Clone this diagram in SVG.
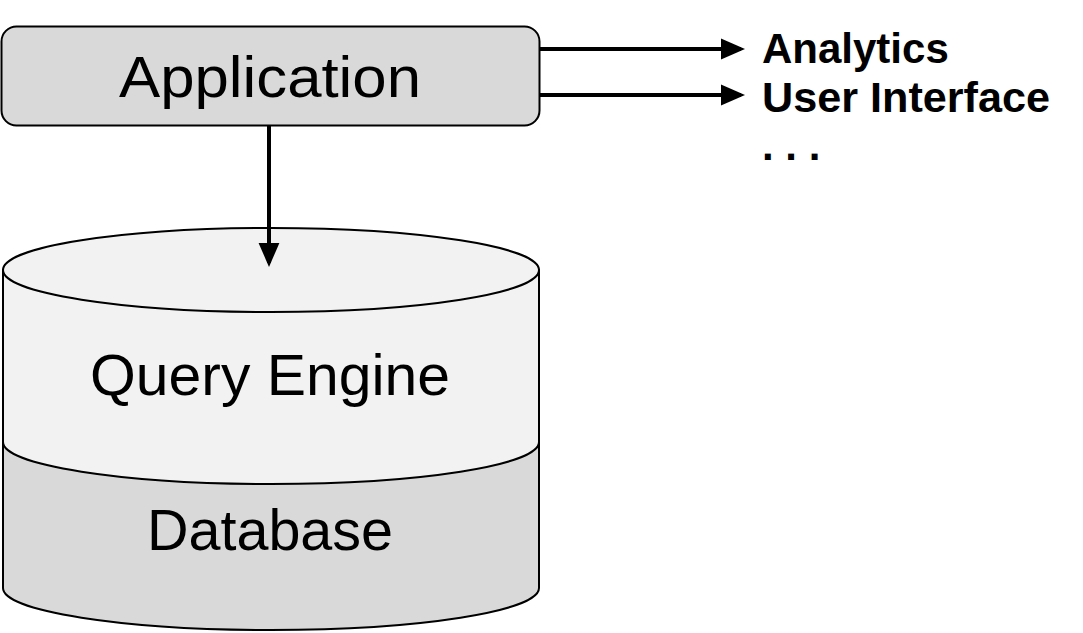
<svg xmlns="http://www.w3.org/2000/svg" width="1083" height="633" viewBox="0 0 1083 633">
<style>
.lbl{font-family:"Liberation Sans",Arial,sans-serif;font-size:58px;fill:#000;text-anchor:middle}
.side{font-family:"Liberation Sans",Arial,sans-serif;font-size:42px;font-weight:bold;fill:#000}
.edge{stroke:#000;stroke-width:4;fill:none}
.shape{stroke:#000;stroke-width:2}
</style>
<defs>
<marker id="ah" markerWidth="6" markerHeight="6" refX="5" refY="3" orient="auto" markerUnits="strokeWidth">
<path d="M0,0.4 L6,3 L0,5.6 Z" fill="#000"/>
</marker>
</defs>
<rect width="1083" height="633" fill="#fff"/>
<g id="database">
<path class="shape" d="M3,442 L3,588 A268,42 0 0 0 539,588 L539,442 Z" fill="#d9d9d9"/>
<text class="lbl" x="270" y="550" textLength="246" lengthAdjust="spacingAndGlyphs">Database</text>
</g>
<g id="query-engine">
<path class="shape" d="M3,270 L3,442 A268,42 0 0 0 539,442 L539,270 Z" fill="#f2f2f2"/>
<ellipse class="shape" cx="271" cy="270" rx="268" ry="42" fill="#f2f2f2"/>
<text class="lbl" x="270" y="395" textLength="360" lengthAdjust="spacingAndGlyphs">Query Engine</text>
</g>
<g id="application">
<rect class="shape" x="1.5" y="26.5" width="538" height="99" rx="15" fill="#d9d9d9"/>
<text class="lbl" x="270" y="97" textLength="302" lengthAdjust="spacingAndGlyphs">Application</text>
</g>
<g id="outputs">
<text class="side" x="762" y="63">Analytics</text>
<text class="side" x="762" y="112" textLength="288" lengthAdjust="spacingAndGlyphs">User Interface</text>
<text class="side" x="762" y="160">. . .</text>
</g>
<g id="connectors">
<line class="edge" x1="540" y1="49" x2="741" y2="49" marker-end="url(#ah)"/>
<line class="edge" x1="540" y1="95" x2="741" y2="95" marker-end="url(#ah)"/>
<line class="edge" x1="269" y1="126" x2="269" y2="263" marker-end="url(#ah)"/>
</g>
</svg>
